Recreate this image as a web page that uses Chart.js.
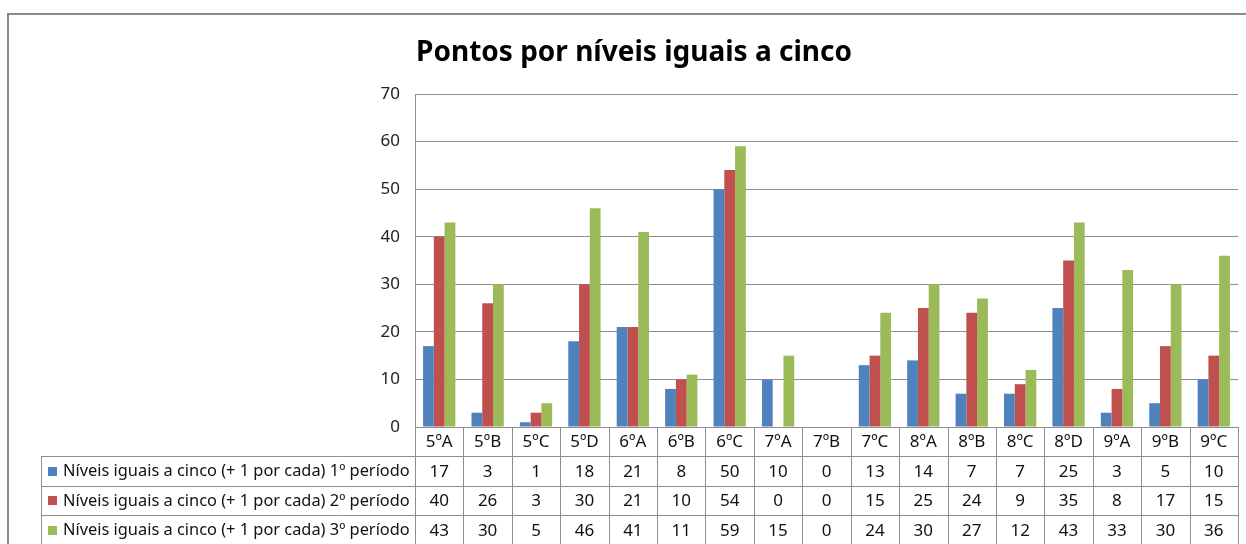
<!DOCTYPE html>
<html>
<head>
<meta charset="utf-8">
<script src="https://cdn.jsdelivr.net/npm/chart.js@4"></script>
<style>
  body { margin: 0; background: #fff; }
  #grafico { display: block; }
</style>
</head>
<body>
<canvas id="grafico" width="1246" height="544"></canvas>
<script>
const titulo = "Pontos por níveis iguais a cinco";
const turmas = ["5ºA", "5ºB", "5ºC", "5ºD", "6ºA", "6ºB", "6ºC", "7ºA", "7ºB", "7ºC", "8ºA", "8ºB", "8ºC", "8ºD", "9ºA", "9ºB", "9ºC"];
const periodo1 = [17, 3, 1, 18, 21, 8, 50, 10, 0, 13, 14, 7, 7, 25, 3, 5, 10];
const periodo2 = [40, 26, 3, 30, 21, 10, 54, 0, 0, 15, 25, 24, 9, 35, 8, 17, 15];
const periodo3 = [43, 30, 5, 46, 41, 11, 59, 15, 0, 24, 30, 27, 12, 43, 33, 30, 36];
const nomesSeries = [
    "Níveis iguais a cinco (+ 1 por cada) 1º período",
    "Níveis iguais a cinco (+ 1 por cada) 2º período",
    "Níveis iguais a cinco (+ 1 por cada) 3º período"
];
const eixoY = { min: 0, max: 70, passo: 10 };

const cores = ["#4F81BD", "#C0504D", "#9BBB59"];
const fonte = "'Noto Sans', 'Open Sans', sans-serif";
const corLinha = "#8e8e8e";

// medidas da tabela de dados abaixo do grafico
const tabela = { esquerda: 41, linhaCabecalho: 29, alturaLinha: 29.5 };

function ajustarFonte(ctx, texto, largura, peso) {
    let tamanho = 20;
    ctx.font = `${peso} ${tamanho}px ${fonte}`;
    const medida = ctx.measureText(texto).width;
    return tamanho * largura / medida;
}

// desenha titulo, moldura e a tabela de dados
const pluginTabela = {
    id: "tabelaDados",
    afterDraw(chart) {
        const ctx = chart.ctx;
        const area = chart.chartArea;
        const x = chart.scales.x;
        const n = turmas.length;
        const largCat = (area.right - area.left) / n;
        const topo = area.bottom;
        const linhas = [topo, topo + tabela.linhaCabecalho];
        for (let i = 1; i <= 3; i++) linhas.push(linhas[1] + i * tabela.alturaLinha);

        ctx.save();

        // moldura do grafico
        ctx.strokeStyle = "#8a8a8a";
        ctx.lineWidth = 2;
        ctx.beginPath();
        ctx.moveTo(8, chart.height);
        ctx.lineTo(8, 14);
        ctx.lineTo(chart.width, 14);
        ctx.stroke();

        // titulo
        const tamTitulo = ajustarFonte(ctx, titulo, 436, "bold");
        ctx.font = `bold ${tamTitulo}px ${fonte}`;
        ctx.fillStyle = "#000";
        ctx.textAlign = "center";
        ctx.textBaseline = "alphabetic";
        ctx.fillText(titulo, 634, 61);

        // linhas da tabela
        ctx.strokeStyle = corLinha;
        ctx.lineWidth = 1;
        ctx.beginPath();
        for (let i = 0; i <= n; i++) {
            const px = Math.round(area.left + i * largCat) + 0.5;
            ctx.moveTo(px, topo);
            ctx.lineTo(px, chart.height);
        }
        ctx.moveTo(tabela.esquerda + 0.5, linhas[1]);
        ctx.lineTo(tabela.esquerda + 0.5, chart.height);
        for (let j = 1; j < linhas.length; j++) {
            const py = Math.round(linhas[j]) + 0.5;
            ctx.moveTo(tabela.esquerda, py);
            ctx.lineTo(area.right, py);
        }
        ctx.stroke();

        // cabecalho com as turmas
        ctx.fillStyle = "#111";
        ctx.textAlign = "center";
        ctx.textBaseline = "middle";
        ctx.font = `17px ${fonte}`;
        turmas.forEach((t, i) => {
            ctx.fillText(t, x.getPixelForValue(i), (linhas[0] + linhas[1]) / 2 + 1);
        });

        // linhas de valores por serie
        const series = [periodo1, periodo2, periodo3];
        const tamLegenda = ajustarFonte(ctx, nomesSeries[0], 347, "normal");
        series.forEach((valores, s) => {
            const meio = (linhas[s + 1] + linhas[s + 2]) / 2 + 1;
            ctx.fillStyle = cores[s];
            ctx.fillRect(48, Math.round(meio - 5), 9, 9);
            ctx.fillStyle = "#111";
            ctx.textAlign = "left";
            ctx.font = `${tamLegenda}px ${fonte}`;
            ctx.fillText(nomesSeries[s], 63, meio);
            ctx.textAlign = "center";
            ctx.font = `17px ${fonte}`;
            valores.forEach((v, i) => {
                ctx.fillText(String(v), x.getPixelForValue(i), meio);
            });
        });

        ctx.restore();
    }
};

const ctxGrafico = document.getElementById("grafico").getContext("2d");

new Chart(ctxGrafico, {
    type: "bar",
    data: {
        labels: turmas,
        datasets: [periodo1, periodo2, periodo3].map((valores, s) => ({
            label: nomesSeries[s],
            data: valores,
            backgroundColor: cores[s],
            borderWidth: 0,
            categoryPercentage: 3 / 4.5,
            barPercentage: 1
        }))
    },
    options: {
        responsive: false,
        animation: false,
        devicePixelRatio: 1,
        layout: {
            padding: { left: 0, top: 94, right: 8, bottom: 117 }
        },
        plugins: {
            legend: { display: false },
            title: { display: false },
            tooltip: { enabled: false }
        },
        scales: {
            x: {
                display: false
            },
            y: {
                min: eixoY.min,
                max: eixoY.max,
                ticks: {
                    stepSize: eixoY.passo,
                    padding: 15,
                    color: "#222",
                    font: { family: fonte, size: 17 }
                },
                grid: {
                    color: corLinha,
                    drawTicks: false
                },
                border: { display: true, color: corLinha },
                afterFit(escala) {
                    escala.width = 415;
                }
            }
        }
    },
    plugins: [pluginTabela]
});
</script>
</body>
</html>
